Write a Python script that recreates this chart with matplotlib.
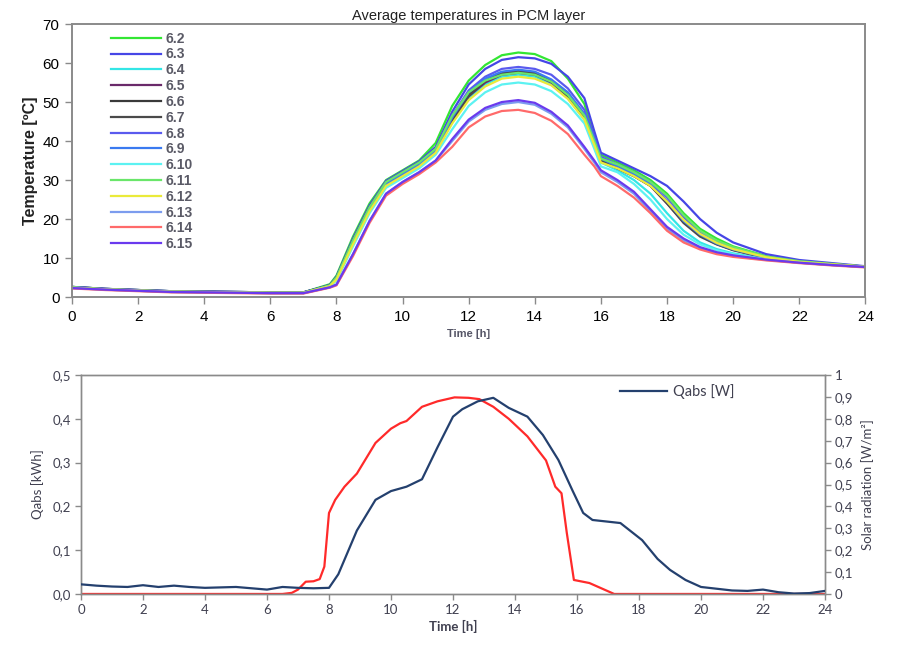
import matplotlib
matplotlib.use("Agg")
import matplotlib.pyplot as plt
from matplotlib.ticker import FuncFormatter

# ---------------- data: top chart ----------------
hours = [0, 1, 2, 3, 4, 5, 6, 7, 7.8, 8, 8.5, 9, 9.5, 10, 10.5, 11,
         11.5, 12, 12.5, 13, 13.5, 14, 14.5, 15, 15.5, 15.8, 16,
         16.5, 17, 17.5, 18, 18.5, 19, 19.5, 20, 21, 22, 23, 24]

series_names = ["6.2", "6.3", "6.4", "6.5", "6.6", "6.7", "6.8",
                "6.9", "6.10", "6.11", "6.12", "6.13", "6.14", "6.15"]

t_62 = [2.6, 2.1, 1.8, 1.5, 1.4, 1.3, 1.2, 1.2, 3.3, 5.5, 15.5, 24, 30, 32.5, 35, 39.5,
        49, 55.5, 59.5, 62, 62.7, 62.3, 60.5, 56, 49.5, 41, 36.5,
        34.5, 32.5, 30, 26.5, 21.5, 17.5, 15, 13, 10.5, 9.2, 8.5, 7.8]
t_63 = [2.6, 2.1, 1.8, 1.5, 1.4, 1.3, 1.2, 1.2, 3.1, 5.2, 15, 23.5, 29.8, 32.3, 34.8, 38.5,
        47.5, 54.5, 58.5, 60.8, 61.5, 61.2, 59.8, 56.5, 51, 42.5, 37,
        35, 33, 31, 28.5, 24.5, 20, 16.5, 14, 11, 9.5, 8.7, 7.9]
t_64 = [2.4, 2.0, 1.7, 1.4, 1.3, 1.2, 1.1, 1.1, 2.8, 4.5, 13.5, 22, 28.5, 31, 33.5, 37,
        45, 51, 54.5, 56.5, 57, 56.5, 54.5, 51, 45.5, 39, 34.5,
        32.5, 30, 26.5, 21.5, 17, 14, 12.3, 11.2, 9.8, 8.9, 8.3, 7.7]
t_65 = [2.5, 2.0, 1.7, 1.4, 1.3, 1.2, 1.1, 1.1, 2.9, 4.8, 14, 22.5, 29, 31.5, 34, 37.5,
        45, 51.5, 55, 57, 57.5, 57, 55, 51.5, 46, 39.5, 35,
        33, 31, 28.5, 24, 19.3, 15.8, 13.6, 12.1, 10.1, 9, 8.3, 7.7]
t_66 = [2.6, 2.1, 1.8, 1.5, 1.4, 1.3, 1.2, 1.2, 3.0, 5.0, 14.5, 23, 29.5, 32, 34.5, 38,
        46, 52, 55.5, 57.5, 58, 57.5, 55.5, 52, 46.5, 40, 35.5,
        33.5, 31.5, 29, 24.5, 19.5, 16, 13.8, 12.3, 10.2, 9, 8.4, 7.8]
t_67 = [2.5, 2.0, 1.7, 1.4, 1.3, 1.2, 1.1, 1.1, 3.0, 5.0, 14.5, 23, 29.3, 31.8, 34.3, 37.8,
        45.5, 51.5, 55.5, 57.2, 57.8, 57.3, 55.3, 51.5, 46, 39.5, 35,
        33, 31, 28.5, 24, 19, 15.5, 13.5, 12, 10, 9, 8.3, 7.7]
t_68 = [2.6, 2.1, 1.8, 1.5, 1.4, 1.3, 1.2, 1.2, 3.0, 5.0, 14.5, 23, 29.5, 32, 34.5, 38,
        46.5, 53, 56.5, 58.5, 59, 58.5, 57, 53.5, 48, 41, 36,
        34, 32, 29.5, 25.5, 20.5, 16.5, 14, 12.5, 10.3, 9.1, 8.4, 7.8]
t_69 = [2.5, 2.0, 1.7, 1.4, 1.3, 1.2, 1.1, 1.1, 2.9, 4.8, 14, 22.5, 29, 31.5, 34, 37.5,
        46, 52.5, 56, 57.8, 58.3, 57.8, 55.8, 52.5, 47, 40.5, 35.5,
        33.5, 31.5, 29, 24.5, 19.5, 16, 13.7, 12.2, 10.1, 9, 8.4, 7.8]
t_610 = [2.4, 1.9, 1.6, 1.3, 1.2, 1.1, 1.0, 1.0, 2.7, 4.2, 13, 21.5, 28, 30.5, 33, 36.5,
         43, 49, 52.5, 54.5, 55, 54.5, 52.8, 49.5, 44.5, 38, 33.5,
         32, 29, 25, 20, 16, 13.5, 12, 11, 9.7, 8.8, 8.2, 7.7]
t_611 = [2.5, 2.0, 1.7, 1.4, 1.3, 1.2, 1.1, 1.1, 3.0, 5.0, 14.5, 23, 29.5, 32, 34.5, 38,
         46.5, 52.5, 55.5, 57, 57.5, 57, 55.2, 51.8, 46.5, 40, 35.5,
         34, 32, 29.5, 26, 21, 17, 14.5, 12.8, 10.4, 9.2, 8.5, 7.8]
t_612 = [2.4, 2.0, 1.7, 1.4, 1.3, 1.2, 1.1, 1.1, 2.8, 4.5, 13.5, 22, 28.5, 31, 33.5, 37,
         44.5, 50.5, 54, 56, 56.5, 56, 54.3, 50.8, 45.5, 39, 34.5,
         33, 31, 28.5, 24.5, 19.8, 16.2, 13.9, 12.3, 10.2, 9, 8.4, 7.8]
t_613 = [2.3, 1.9, 1.6, 1.3, 1.2, 1.1, 1.0, 1.0, 2.5, 3.2, 11, 19.5, 26.5, 29.5, 32, 35,
         40, 45, 48, 49.5, 50, 49.3, 47, 43.5, 38, 34.5, 32,
         29.5, 26.5, 22, 17.5, 14.5, 12.5, 11.3, 10.5, 9.5, 8.8, 8.2, 7.7]
t_614 = [2.2, 1.8, 1.5, 1.2, 1.1, 1.0, 0.9, 0.9, 2.4, 3.0, 10.5, 19, 26, 29, 31.5, 34.5,
         38.5, 43.5, 46.3, 47.7, 48, 47.2, 45.2, 41.8, 36.5, 33.5, 31,
         28.5, 25.5, 21.5, 17, 14, 12.2, 11, 10.3, 9.4, 8.7, 8.1, 7.6]
t_615 = [2.3, 1.9, 1.6, 1.3, 1.2, 1.1, 1.0, 1.0, 2.5, 3.2, 11, 19.5, 26.5, 29.5, 32, 35,
         40.5, 45.5, 48.5, 50, 50.5, 49.8, 47.5, 44, 38.5, 35, 32.5,
         30, 27, 22.5, 18, 15, 12.8, 11.5, 10.7, 9.6, 8.8, 8.2, 7.7]

series_values = [t_62, t_63, t_64, t_65, t_66, t_67, t_68,
                 t_69, t_610, t_611, t_612, t_613, t_614, t_615]
series_colors = ["#33e633", "#4646e6", "#33e6e6", "#6a2a6a", "#3a3a3a", "#4a4a4a", "#5a5aee",
                 "#3a7af0", "#5cf2f2", "#6ae66a", "#eaea3a", "#7c9cee", "#ff6a6a", "#6a3aee"]

# ---------------- data: bottom chart ----------------
q_hours = [0, 0.5, 1, 1.5, 2, 2.5, 3, 3.5, 4, 4.5, 5, 5.5, 6, 6.5, 7, 7.5, 8, 8.3, 8.6, 8.9,
           9.2, 9.5, 10, 10.5, 11, 11.5, 12, 12.3, 12.8, 13.3, 13.8, 14.4, 14.9, 15.4, 15.85,
           16.2, 16.5, 17.4, 18.1, 18.6, 19, 19.5, 20, 20.5, 21, 21.5, 22, 22.5, 23, 23.5, 24]
qabs = [0.022, 0.019, 0.017, 0.016, 0.02, 0.016, 0.019, 0.016, 0.014, 0.015, 0.016, 0.013,
        0.01, 0.016, 0.014, 0.013, 0.014, 0.045, 0.095, 0.145, 0.18, 0.215, 0.235, 0.245,
        0.262, 0.335, 0.405, 0.422, 0.44, 0.448, 0.425, 0.405, 0.363, 0.306, 0.237, 0.185,
        0.169, 0.162, 0.123, 0.08, 0.055, 0.032, 0.016, 0.012, 0.008, 0.007, 0.01, 0.004,
        0.001, 0.002, 0.007]

s_hours = [0, 6.5, 6.8, 7.0, 7.25, 7.5, 7.7, 7.85, 8.0, 8.2, 8.5, 8.9, 9.5, 10.0, 10.3, 10.5,
           11.0, 11.5, 12.05, 12.5, 12.85, 13.3, 13.8, 14.4, 15.0, 15.3, 15.5, 15.67, 15.9,
           16.4, 16.8, 17.2, 24]
solar = [0, 0, 0.005, 0.02, 0.056, 0.058, 0.068, 0.125, 0.37, 0.43, 0.49, 0.55, 0.69, 0.755,
         0.78, 0.79, 0.855, 0.88, 0.898, 0.896, 0.89, 0.855, 0.80, 0.72, 0.61, 0.49, 0.46,
         0.28, 0.064, 0.05, 0.025, 0, 0]

x_ticks = list(range(0, 25, 2))

# ---------------- figure ----------------
fig = plt.figure(figsize=(9.05, 6.5), dpi=100)
narrow = ["Liberation Sans Narrow", "Liberation Sans", "DejaVu Sans"]
sans = ["Liberation Sans", "DejaVu Sans"]
cal = ["Lato", "DejaVu Sans"]

ax1 = fig.add_axes([0.0796, 0.543, 0.8766, 0.420])
for name, vals, col in zip(series_names, series_values, series_colors):
    ax1.plot(hours, vals, color=col, lw=1.6, label=name)
ax1.set_xlim(0, 24)
ax1.set_ylim(0, 70)
ax1.set_xticks(x_ticks)
ax1.set_yticks(range(0, 71, 10))
for sp in ax1.spines.values():
    sp.set_color("#8a8a8a")
    sp.set_linewidth(1.4)
ax1.tick_params(direction="out", length=5, width=1, color="#8a8a8a", labelsize=11, pad=4)
for lab in ax1.get_xticklabels() + ax1.get_yticklabels():
    lab.set_family(sans)
ax1.set_title("Average temperatures in PCM layer", family=narrow, fontsize=10.5,
              color="#222222", pad=3)
ax1.set_ylabel("Temperature [ºC]", family=sans, fontsize=11.5, fontweight="bold",
               color="#222222", labelpad=3)
ax1.set_xlabel("Time [h]", family=sans, fontsize=8, fontweight="bold", color="#555566",
               labelpad=4)
leg1 = ax1.legend(loc="upper left", bbox_to_anchor=(0.049, 0.972), frameon=False,
                  prop={"family": sans, "size": 10, "weight": "bold"},
                  handlelength=3.6, handletextpad=0.35, labelspacing=0.13, borderpad=0.0,
                  borderaxespad=0.0)
for txt in leg1.get_texts():
    txt.set_color("#5a5a66")

# bottom chart
ax2 = fig.add_axes([0.0895, 0.0862, 0.8221, 0.3368])
ax3 = ax2.twinx()
ax3.plot(s_hours, solar, color="#ff2a2a", lw=1.6, zorder=2)
ax2.plot(q_hours, qabs, color="#24406e", lw=1.6, label="Qabs [W]", zorder=3)
ax2.set_zorder(ax3.get_zorder() + 1)
ax2.patch.set_visible(False)
ax2.set_xlim(0, 24)
ax2.set_ylim(0, 0.5)
ax3.set_ylim(0, 1)
ax2.set_xticks(x_ticks)
ax2.set_yticks([0, 0.1, 0.2, 0.3, 0.4, 0.5])
ax3.set_yticks([0, 0.1, 0.2, 0.3, 0.4, 0.5, 0.6, 0.7, 0.8, 0.9, 1.0])
ax2.yaxis.set_major_formatter(FuncFormatter(lambda v, p: f"{v:.1f}".replace(".", ",")))
ax3.yaxis.set_major_formatter(FuncFormatter(
    lambda v, p: "0" if abs(v) < 1e-9 else ("1" if abs(v - 1) < 1e-9 else f"{v:.1f}".replace(".", ","))))
for a in (ax2, ax3):
    for sp in a.spines.values():
        sp.set_color("#8a8a8a")
        sp.set_linewidth(1.0)
    a.tick_params(direction="out", length=4, width=1, color="#8a8a8a", labelsize=9.5,
                  labelcolor="#404050", pad=3)
for lab in ax2.get_xticklabels() + ax2.get_yticklabels() + ax3.get_yticklabels():
    lab.set_family(cal)
ax2.set_ylabel("Qabs [kWh]", family=cal, fontsize=9.5, color="#404050", labelpad=6)
ax3.set_ylabel("Solar radiation [W/m²]", family=cal, fontsize=9.5, color="#404050",
               labelpad=6)
ax2.set_xlabel("Time [h]", family=cal, fontsize=9.5, fontweight="bold", color="#404050",
               labelpad=3)
leg2 = ax2.legend(loc="upper left", bbox_to_anchor=(0.725, 0.96), frameon=False,
                  prop={"family": cal, "size": 10.5}, handlelength=3.2, handletextpad=0.4,
                  borderpad=0.0, borderaxespad=0.0)
for txt in leg2.get_texts():
    txt.set_color("#404050")

fig.savefig("out.png", dpi=100)
